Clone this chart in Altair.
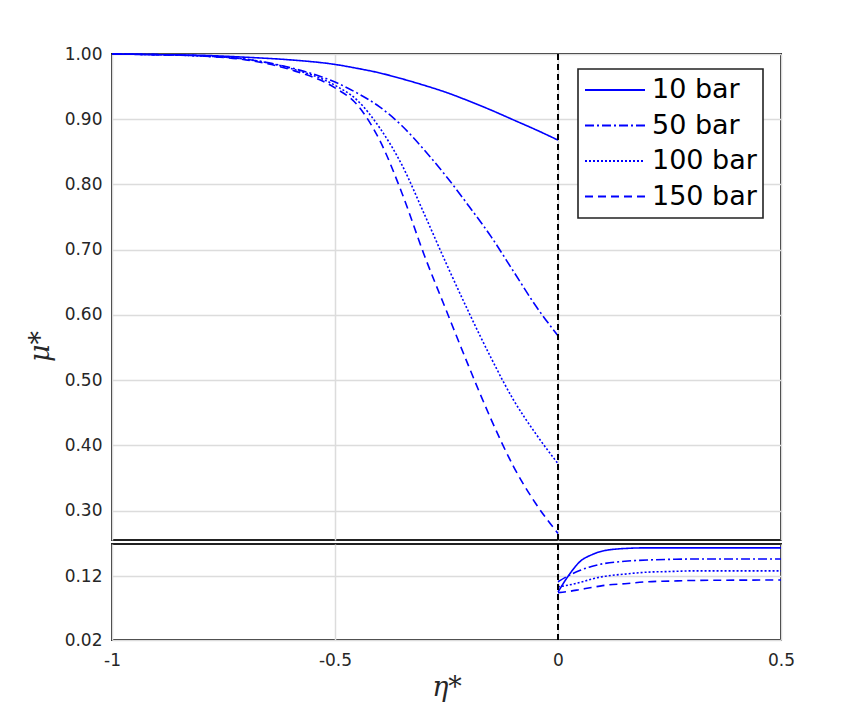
import altair as alt
import pandas as pd

series = ["10 bar", "50 bar", "100 bar", "150 bar"]

# left branch (eta* <= 0), upper panel
eta_left = [-1.0, -0.9, -0.8, -0.7, -0.6, -0.5, -0.45, -0.4, -0.35, -0.3,
            -0.25, -0.2, -0.15, -0.1, -0.05, 0.0]
mu_left_10 = [1.0, 0.999, 0.998, 0.995, 0.991, 0.984, 0.978, 0.971, 0.962, 0.952,
              0.941, 0.928, 0.914, 0.899, 0.884, 0.868]
mu_left_50 = [1.0, 0.999, 0.997, 0.992, 0.979, 0.957, 0.940, 0.919, 0.890, 0.853,
              0.812, 0.767, 0.720, 0.667, 0.614, 0.568]
mu_left_100 = [1.0, 0.999, 0.997, 0.992, 0.978, 0.952, 0.929, 0.887, 0.830, 0.755,
               0.678, 0.604, 0.534, 0.470, 0.418, 0.372]
mu_left_150 = [1.0, 0.999, 0.997, 0.991, 0.976, 0.948, 0.922, 0.868, 0.787, 0.692,
               0.606, 0.521, 0.440, 0.368, 0.311, 0.265]

# right branch (eta* >= 0), lower panel
eta_right = [0.0, 0.025, 0.05, 0.075, 0.1, 0.15, 0.2, 0.25, 0.3, 0.4, 0.5]
mu_right_10 = [0.095, 0.122, 0.143, 0.153, 0.159, 0.163, 0.164, 0.164, 0.164, 0.164, 0.164]
mu_right_50 = [0.111, 0.121, 0.129, 0.135, 0.139, 0.143, 0.145, 0.146, 0.1465, 0.1465, 0.1465]
mu_right_100 = [0.103, 0.106, 0.110, 0.115, 0.119, 0.123, 0.126, 0.127, 0.128, 0.128, 0.128]
mu_right_150 = [0.094, 0.096, 0.099, 0.102, 0.105, 0.108, 0.111, 0.112, 0.113, 0.1135, 0.1137]

x_ticks = [-1, -0.5, 0, 0.5]
y_ticks_top = [0.3, 0.4, 0.5, 0.6, 0.7, 0.8, 0.9, 1.0]
y_ticks_bottom = [0.02, 0.12]
divider_eta = [0.0]

left_sets = [mu_left_10, mu_left_50, mu_left_100, mu_left_150]
right_sets = [mu_right_10, mu_right_50, mu_right_100, mu_right_150]

df_top = pd.DataFrame([
    {"eta": e, "mu": m, "series": s, "order": i}
    for s, vals in zip(series, left_sets)
    for i, (e, m) in enumerate(zip(eta_left, vals))
])
df_bot = pd.DataFrame([
    {"eta": e, "mu": m, "series": s, "order": i}
    for s, vals in zip(series, right_sets)
    for i, (e, m) in enumerate(zip(eta_right, vals))
])
df_rule = pd.DataFrame({"eta": divider_eta})

BLUE = "#0000ff"
dash_range = [[1, 0], [9, 3, 2, 3], [2, 2], [8, 5]]
xscale = alt.Scale(domain=[-1, 0.5], nice=False, zero=False)

top_lines = alt.Chart(df_top).mark_line(strokeWidth=1.6, color=BLUE, interpolate="monotone").encode(
    x=alt.X("eta:Q", scale=xscale,
            axis=alt.Axis(values=x_ticks, labels=False, ticks=False, domain=False,
                          title=None, grid=True, labelPadding=0, titlePadding=0)),
    y=alt.Y("mu:Q", scale=alt.Scale(domain=[0.255, 1.0], nice=False, zero=False),
            axis=alt.Axis(values=y_ticks_top, format=".2f", title="μ*",
                          titleY=292, titlePadding=10, labelPadding=10)),
    strokeDash=alt.StrokeDash(
        "series:N",
        scale=alt.Scale(domain=series, range=dash_range),
        legend=alt.Legend(
            title=None, orient="none", legendX=466, legendY=15,
            symbolType="stroke", symbolSize=3600, symbolStrokeWidth=1.8,
            symbolStrokeColor=BLUE, labelFontSize=27, labelFont="DejaVu Sans",
            labelColor="black", clipHeight=30, rowPadding=5.5, padding=6,
            labelOffset=6, strokeColor="#222222", fillColor="white")),
    order="order:Q",
)
top_rule = alt.Chart(df_rule).mark_rule(color="black", strokeDash=[6, 4], strokeWidth=2).encode(
    x=alt.X("eta:Q", scale=xscale)
)
top = alt.layer(top_lines, top_rule).properties(width=669, height=486)

bot_lines = alt.Chart(df_bot).mark_line(strokeWidth=1.6, color=BLUE, interpolate="monotone").encode(
    x=alt.X("eta:Q", scale=xscale,
            axis=alt.Axis(values=x_ticks, labelExpr="'' + datum.value", title="η*",
                          ticks=False, domain=False, grid=True, labelPadding=12,
                          labelFlush=False, titlePadding=6)),
    y=alt.Y("mu:Q", scale=alt.Scale(domain=[0.02, 0.17], nice=False, zero=False),
            axis=alt.Axis(values=y_ticks_bottom, format=".2f", title=None, labelPadding=10)),
    strokeDash=alt.StrokeDash("series:N",
                              scale=alt.Scale(domain=series, range=dash_range),
                              legend=None),
    order="order:Q",
)
bot_rule = alt.Chart(df_rule).mark_rule(color="black", strokeDash=[6, 4], strokeWidth=2).encode(
    x=alt.X("eta:Q", scale=xscale)
)
bottom = alt.layer(bot_lines, bot_rule).properties(width=669, height=96)

chart = alt.vconcat(top, bottom, spacing=0).resolve_scale(
    x="independent", y="independent", strokeDash="independent"
).properties(
    padding={"left": 17, "top": 36, "right": 10, "bottom": 10}
).configure_view(
    stroke="#222222", strokeWidth=2
).configure_axis(
    gridColor="#dcdcdc", gridWidth=1.5, labelFont="DejaVu Sans", labelFontSize=17,
    labelColor="#262626", ticks=False, domain=False,
    titleFont="DejaVu Serif", titleFontStyle="italic", titleFontWeight="normal",
    titleFontSize=27, titleColor="#262626"
).configure_legend(
    strokeWidth=1.6
)

chart.save("out.html", embed_options={"renderer": "svg", "actions": False})
